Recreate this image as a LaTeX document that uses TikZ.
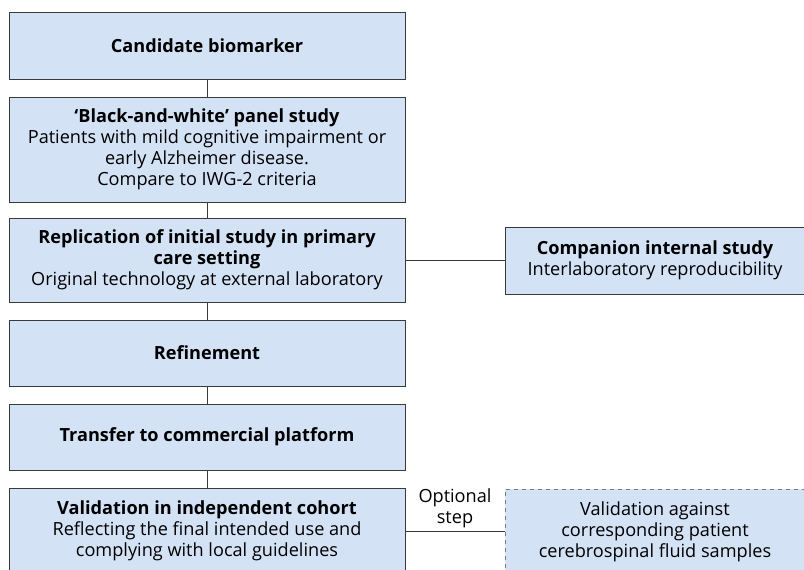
\documentclass[tikz,border=0pt]{standalone}
\usepackage{fontspec}
\setmainfont{Open Sans}
\usepackage{xcolor}
\usepackage{tikz}
\usetikzlibrary{positioning}

\definecolor{boxfill}{HTML}{D4E2F6}
\definecolor{boxline}{HTML}{3A3A3A}
\definecolor{dashline}{HTML}{7A7A7A}

\begin{document}
\begin{tikzpicture}[x=0.75pt,y=-0.75pt,
  every text node part/.style={align=center},
  every node/.style={font=\fontsize{13.6}{15.75}\selectfont},
  stage/.style={rectangle,draw=boxline,fill=boxfill,line width=0.75pt,
    minimum width=297pt,inner sep=0pt},
  side/.style={rectangle,draw=boxline,fill=boxfill,line width=0.75pt,
    minimum width=225pt,inner sep=0pt},
  link/.style={draw=boxline,line width=0.75pt}]
  \useasboundingbox (0,0) rectangle (804,569);
  \clip (0,0) rectangle (804,569);
  \node[stage,minimum height=50.25pt] (0) at (207,45.5) {\textbf{Candidate biomarker}};
  \node[stage,minimum height=78.75pt] (1) at (207,149.5) {\textbf{‘Black-and-white’ panel study}\\
    Patients with mild cognitive impairment or\\ early Alzheimer disease.\\ Compare to IWG-2 criteria};
  \draw[link] (0) -- (1);
  \node[stage,minimum height=63pt] (2) at (207,260) {\textbf{Replication of initial study in primary}\\
    \textbf{care setting}\\ Original technology at external laboratory};
  \draw[link] (1) -- (2);
  \node[side,minimum height=50.25pt] (7) at (655,260.5) {\textbf{Companion internal study}\\
    Interlaboratory reproducibility};
  \draw[link] (2.east) -- (7.west |- 2.east);
  \node[stage,minimum height=49.5pt] (3) at (207,353) {\textbf{Refinement}};
  \draw[link] (2) -- (3);
  \node[stage,minimum height=49.5pt] (4) at (207,437) {\textbf{Transfer to commercial platform}};
  \draw[link] (3) -- (4);
  \node[stage,minimum height=64.5pt] (5) at (207,531) {\textbf{Validation in independent cohort}\\
    Reflecting the final intended use and\\ complying with local guidelines};
  \draw[link] (4) -- (5);
  \node[side,draw=dashline,dashed,minimum height=63.75pt] (8) at (655,531.5) {Validation against\\
    corresponding patient\\ cerebrospinal fluid samples};
  \draw[link] (5.east) -- node[above,inner sep=2pt] (6) {Optional\\ step} (8.west |- 5.east);
\end{tikzpicture}
\end{document}
